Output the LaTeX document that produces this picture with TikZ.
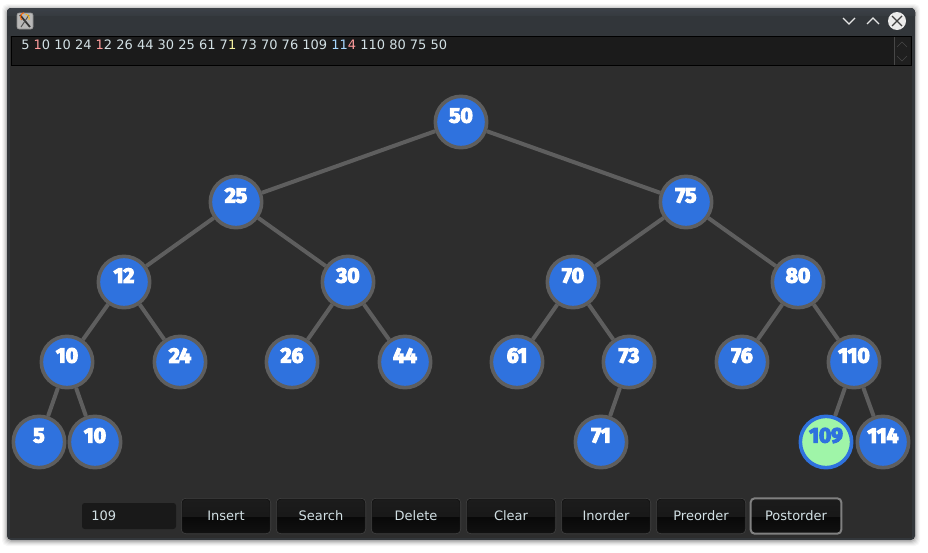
\documentclass[tikz,border=0pt]{standalone}
\usepackage{fontspec}
\setmainfont{DejaVu Sans}
\newfontfamily\nodefont[FakeBold=5.5]{Fira Sans Bold}
\usetikzlibrary{calc}
\definecolor{winbg}{HTML}{2D2D2D}
\definecolor{titletop}{HTML}{3C4148}
\definecolor{titlebot}{HTML}{32363A}
\definecolor{framec}{HTML}{33373B}
\definecolor{areabg}{HTML}{1B1B1B}
\definecolor{edgec}{HTML}{5E5E5E}
\definecolor{nodeblue}{HTML}{2F72DE}
\definecolor{nodegreen}{HTML}{9FF5A8}
\definecolor{uitext}{HTML}{D2E0E4}
\definecolor{tintr}{HTML}{FF9C9C}
\definecolor{tinty}{HTML}{F4F0A0}
\definecolor{tintb}{HTML}{A8D8FF}
\definecolor{btntopa}{HTML}{1C1C1C}
\definecolor{btntopb}{HTML}{151515}
\definecolor{btnbota}{HTML}{090909}
\definecolor{btnbotb}{HTML}{111111}
\tikzset{
  x=0.75pt,y=-0.75pt,
  tree/.style={circle,draw=edgec,line width=2.7pt,fill=nodeblue,minimum size=38.5pt,inner sep=0pt},
  lbl/.style={text=white,font=\nodefont\fontsize{15.8}{15.8}\selectfont},
  link/.style={draw=edgec,line width=3pt},
  uitxt/.style={text=uitext,font=\fontsize{9.75}{10}\selectfont},
  uibtn/.style={rectangle,rounded corners=3pt,draw=#1,line width=0.6pt,uitxt,minimum height=25.5pt,inner sep=0pt,
    preaction={draw=black!72!white,line width=1.5pt},
    path picture={
      \fill[sharp corners,top color=btntopa,bottom color=btntopb] (path picture bounding box.north west) rectangle ([yshift=-1pt]path picture bounding box.east);
      \fill[sharp corners,top color=btnbota,bottom color=btnbotb] ([yshift=-1pt]path picture bounding box.west) rectangle (path picture bounding box.south east);
    }},
  uibtn/.default={black!92!white},
  postbtn/.style={rectangle,rounded corners=3pt,draw=black!50!white,line width=1.5pt,uitxt,minimum height=26.5pt,inner sep=0pt,
    path picture={
      \fill[sharp corners,top color=btntopa,bottom color=btntopb] (path picture bounding box.north west) rectangle ([yshift=-1pt]path picture bounding box.east);
      \fill[sharp corners,top color=btnbota,bottom color=btnbotb] ([yshift=-1pt]path picture bounding box.west) rectangle (path picture bounding box.south east);
    }},
}
\newcommand{\treenode}[3]{%
  \node[tree] (#1) at (#2) {};
  \node[lbl] (#1t) at ($(#2)+(0,-6.5)$) {#3};}
\begin{document}
\begin{tikzpicture}
\useasboundingbox (0,0) rectangle (928,553);
\fill[white] (0,0) rectangle (928,553);
% soft shadow
\foreach \d/\o in {5/0.03,4/0.04,3/0.05,2/0.07,1/0.1}{
  \fill[black,opacity=\o,rounded corners=4pt] (7-\d,8-\d+1) rectangle (915+\d,540+\d+1);}
% window
\node[rectangle,rounded corners=3pt,fill=framec,minimum width=681pt,minimum height=399pt,inner sep=0pt] (window) at (461,274) {};
\fill[top color=titletop,bottom color=titlebot,rounded corners=3pt] (7,8) rectangle (915,20);
\fill[titlebot] (7,16) rectangle (915,36);
\fill[winbg] (10,36) rectangle (912,538);
% title bar icon
\node[rectangle,rounded corners=1.5pt,fill=black!28!white,draw=black!45!white,line width=0.4pt,minimum size=12pt,inner sep=0pt] (icon) at (25,21) {};
\coordinate (ia) at (20,15); \coordinate (ib) at (30,27); \coordinate (ic) at (29,15); \coordinate (id) at (21,27);
\draw[black!80!white,line width=1.3pt] (ia) -- (ib);
\draw[black!70!white,line width=0.7pt] (ic) -- (id);
\draw[orange!80!red,line width=0.7pt] (21.5,20) arc (140:260:4.5);
\draw[orange!60!yellow,line width=0.6pt] (29,20) arc (20:-80:4.5);
% window buttons
\coordinate (mina) at (843,18); \coordinate (minb) at (849,24); \coordinate (minc) at (855,18);
\draw[white!90!black,line width=0.9pt] (mina) -- (minb) -- (minc);
\coordinate (maxa) at (867,24); \coordinate (maxb) at (873,18); \coordinate (maxc) at (879,24);
\draw[white!90!black,line width=0.9pt] (maxa) -- (maxb) -- (maxc);
\node[circle,fill=white!92!black,minimum size=13.5pt,inner sep=0pt] (close) at (897,21) {};
\coordinate (xa) at (892,16); \coordinate (xb) at (902,26); \coordinate (xc) at (902,16); \coordinate (xd) at (892,26);
\draw[black!75!white,line width=0.9pt] (xa) -- (xb) (xc) -- (xd);
% text area
\node[rectangle,draw=black,fill=areabg,line width=0.6pt,minimum width=675pt,minimum height=22.2pt,inner sep=0pt] (area) at (461,51) {};
\fill[black!88!white] (894,37) rectangle (910,65);
\draw[black!72!white,line width=0.4pt] (894.5,37) -- (894.5,65);
\coordinate (sa) at (897,47); \coordinate (sb) at (902,42); \coordinate (sc) at (907,47);
\coordinate (sd) at (897,56); \coordinate (se) at (902,61); \coordinate (sf) at (907,56);
\draw[black!72!white,line width=0.5pt] (sa) -- (sb) -- (sc) (sd) -- (se) -- (sf);
\node[anchor=base west,inner sep=0pt,uitxt] (seq) at (21,49) {5 \textcolor{tintr}{1}0 10 24 \textcolor{tintr}{1}2 26 44 30 25 61 7\textcolor{tinty}{1} 73 70 76 109 \textcolor{tintb}{11}\textcolor{tintr}{4} 110 80 75 50};
% tree nodes
\treenode{n50}{461,122}{50}
\treenode{n25}{236,202}{25}
\treenode{n75}{686,202}{75}
\treenode{n12}{124,282}{12}
\treenode{n30}{348,282}{30}
\treenode{n70}{573,282}{70}
\treenode{n80}{798,282}{80}
\treenode{n10a}{67,362}{10}
\treenode{n24}{180,362}{24}
\treenode{n26}{292,362}{26}
\treenode{n44}{405,362}{44}
\treenode{n61}{517,362}{61}
\treenode{n73}{629,362}{73}
\treenode{n76}{742,362}{76}
\treenode{n110}{854,362}{110}
\treenode{n5}{39,442}{5}
\treenode{n10b}{95,442}{10}
\treenode{n71}{601,442}{71}
\node[tree,draw=nodeblue,fill=nodegreen] (n109) at (826,442) {};
\node[lbl,text=nodeblue] (n109t) at (826,435.5) {109};
\treenode{n114}{883,442}{114}
% edges
\foreach \a/\b in {n50/n25,n50/n75,n25/n12,n25/n30,n75/n70,n75/n80,n12/n10a,n12/n24,n30/n26,n30/n44,n70/n61,n70/n73,n80/n76,n80/n110,n10a/n5,n10a/n10b,n73/n71,n110/n109,n110/n114}{
  \draw[link] (\a) -- (\b);}
% controls
\node[rectangle,rounded corners=2pt,fill=black!90!white,minimum width=70.5pt,minimum height=19.5pt,inner sep=0pt] (field) at (129,516) {};
\node[anchor=base west,inner sep=0pt,uitxt] (fieldt) at (91,520.5) {109};
\foreach \nm/\cx/\tx in {binsert/226/Insert,bsearch/321/Search,bdelete/416/Delete,bclear/511/Clear,binorder/606/Inorder,bpre/701/Preorder}{
  \node[uibtn,minimum width=66pt] (\nm) at (\cx,516) {\raisebox{-0.6pt}{\tx}};}
\node[postbtn,minimum width=68pt] (bpost) at (796,516) {\raisebox{-0.6pt}{Postorder}};
\end{tikzpicture}
\end{document}
